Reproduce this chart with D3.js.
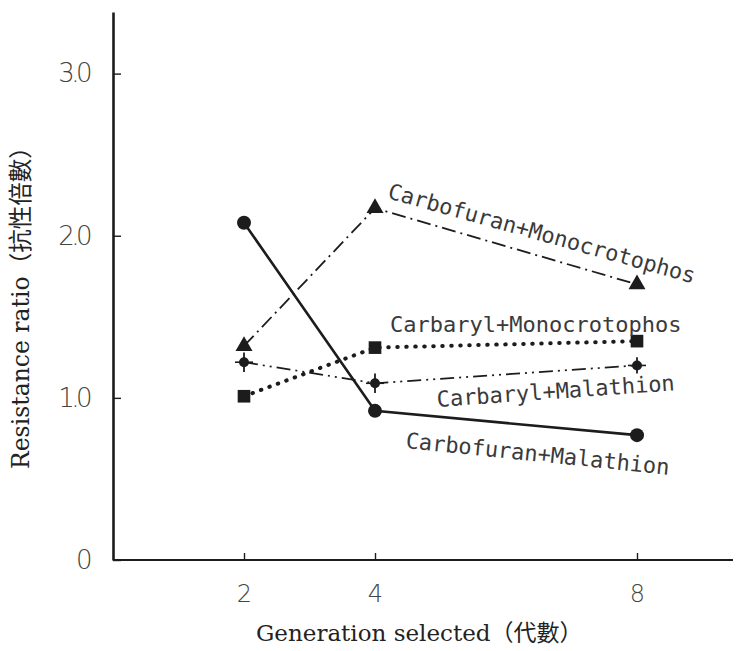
<!DOCTYPE html>
<html>
<head>
<meta charset="utf-8">
<script src="https://cdn.jsdelivr.net/npm/d3@7"></script>
<style>
  body { margin: 0; background: #fff; }
  svg { display: block; }
</style>
</head>
<body>
<div id="chart"></div>
<script>
// values
var generations = [2, 4, 8];
var carbofuranMalathion = [20.8, 9.2, 7.7];
var carbofuranMonocrotophos = [13.2, 21.7, 17.0];
var carbarylMonocrotophos = [10.1, 13.1, 13.5];
var carbarylMalathion = [12.2, 10.9, 12.0];
var carbarylMalathionErr = [0.6, 0.6, 0.5];

var yTicks = [0, 10, 20, 30];
var yTickLabels = ["0", "1.0", "2.0", "3.0"];
var xTicks = [2, 4, 8];

var seriesNames = ["Carbofuran+Monocrotophos", "Carbaryl+Monocrotophos", "Carbaryl+Malathion", "Carbofuran+Malathion"];

var width = 737, height = 651;
var ink = "#1c1c1c";
var tickFont = "'DejaVu Sans', 'Liberation Sans', sans-serif";

var svg = d3.select("#chart").append("svg")
    .attr("width", width)
    .attr("height", height);

var x = d3.scaleLinear().domain([2, 8]).range([244, 637]);
var y = d3.scaleLinear().domain([0, 33.8]).range([560, 12]);

// axes
var yAxis = svg.append("g")
    .attr("transform", "translate(113,0)")
    .call(d3.axisLeft(y).tickValues(yTicks)
        .tickFormat(function (d, i) { return yTickLabels[i]; })
        .tickSizeInner(-8).tickSizeOuter(0).tickPadding(24));
yAxis.select(".domain").attr("stroke", ink).attr("stroke-width", 2.6);
yAxis.selectAll(".tick line").attr("stroke", ink).attr("stroke-width", 1.4);
yAxis.selectAll(".tick text")
    .attr("fill", "#444")
    .style("font-family", tickFont)
    .style("font-weight", "200")
    .style("font-stretch", "condensed")
    .style("font-size", "26px")
    .style("letter-spacing", "-3.5px");

var xAxis = svg.append("g")
    .attr("transform", "translate(0,560)")
    .call(d3.axisBottom(x).tickValues(xTicks).tickFormat(d3.format("d"))
        .tickSizeInner(-7).tickSizeOuter(0).tickPadding(25));
xAxis.select(".domain").attr("d", "M113,0H733").attr("stroke", ink).attr("stroke-width", 2.2);
xAxis.selectAll(".tick line").attr("stroke", ink).attr("stroke-width", 1.4);
xAxis.selectAll(".tick text")
    .attr("fill", "#444")
    .style("font-family", tickFont)
    .style("font-weight", "200")
    .style("font-stretch", "condensed")
    .style("font-size", "24px");

// axis titles
svg.append("text")
    .attr("x", 256).attr("y", 641)
    .attr("fill", "#222")
    .style("font-family", "'DejaVu Serif', 'Noto Sans CJK TC', serif")
    .style("font-size", "23px")
    .text("Generation selected（代數）");

svg.append("text")
    .attr("transform", "translate(29,469) rotate(-90)")
    .attr("fill", "#222")
    .style("font-family", "'DejaVu Serif', 'Noto Sans CJK TC', serif")
    .style("font-size", "23.5px")
    .text("Resistance ratio（抗性倍數）");

// lines
function pts(vals) {
    return generations.map(function (g, i) { return [g, vals[i]]; });
}
var line = d3.line().x(function (d) { return x(d[0]); }).y(function (d) { return y(d[1]); });

svg.append("path").datum(pts(carbofuranMalathion))
    .attr("d", line).attr("fill", "none").attr("stroke", ink).attr("stroke-width", 2.6);

svg.append("path").datum(pts(carbofuranMonocrotophos))
    .attr("d", line).attr("fill", "none").attr("stroke", ink).attr("stroke-width", 1.8)
    .attr("stroke-dasharray", "14 5 2 5");

svg.append("path").datum(pts(carbarylMonocrotophos))
    .attr("d", line).attr("fill", "none").attr("stroke", ink).attr("stroke-width", 4)
    .attr("stroke-linecap", "round").attr("stroke-dasharray", "0.5 8.5");

svg.append("path").datum(pts(carbarylMalathion))
    .attr("d", line).attr("fill", "none").attr("stroke", ink).attr("stroke-width", 1.7)
    .attr("stroke-dasharray", "14 5 2 5 2 5");

// markers
svg.append("g").selectAll("circle")
    .data(pts(carbofuranMalathion)).enter().append("circle")
    .attr("cx", function (d) { return x(d[0]); })
    .attr("cy", function (d) { return y(d[1]); })
    .attr("r", 7).attr("fill", ink);

svg.append("g").selectAll("path")
    .data(pts(carbofuranMonocrotophos)).enter().append("path")
    .attr("d", d3.symbol().type(d3.symbolTriangle).size(125))
    .attr("transform", function (d) { return "translate(" + x(d[0]) + "," + y(d[1]) + ")"; })
    .attr("fill", ink);

svg.append("g").selectAll("path")
    .data(pts(carbarylMonocrotophos)).enter().append("path")
    .attr("d", d3.symbol().type(d3.symbolSquare).size(160))
    .attr("transform", function (d) { return "translate(" + x(d[0]) + "," + y(d[1]) + ")"; })
    .attr("fill", ink);

var plusG = svg.append("g").selectAll("g")
    .data(pts(carbarylMalathion)).enter().append("g");
plusG.append("line")
    .attr("x1", function (d) { return x(d[0]); })
    .attr("x2", function (d) { return x(d[0]); })
    .attr("y1", function (d, i) { return y(d[1] + carbarylMalathionErr[i]); })
    .attr("y2", function (d, i) { return y(d[1] - carbarylMalathionErr[i]); })
    .attr("stroke", ink).attr("stroke-width", 1.8);
plusG.append("line")
    .attr("x1", function (d) { return x(d[0]) - 9; })
    .attr("x2", function (d) { return x(d[0]) + 9; })
    .attr("y1", function (d) { return y(d[1]); })
    .attr("y2", function (d) { return y(d[1]); })
    .attr("stroke", ink).attr("stroke-width", 1.6);
plusG.append("circle")
    .attr("cx", function (d) { return x(d[0]); })
    .attr("cy", function (d) { return y(d[1]); })
    .attr("r", 5).attr("fill", ink);

// series labels, placed in data coordinates
var labelSpots = [
    { gx: 4.18, ry: 22.33, angle: 15.6 },
    { gx: 4.23, ry: 14.07, angle: 0 },
    { gx: 4.95, ry: 9.44, angle: -4 },
    { gx: 4.46, ry: 6.91, angle: 5.8 }
];
svg.append("g").selectAll("text")
    .data(seriesNames).enter().append("text")
    .attr("transform", function (d, i) {
        var s = labelSpots[i];
        return "translate(" + x(s.gx) + "," + y(s.ry) + ") rotate(" + s.angle + ")";
    })
    .attr("fill", "#3a3a3a")
    .style("font-family", "'DejaVu Sans Mono', monospace")
    .style("font-size", "22px")
    .text(function (d) { return d; });
</script>
</body>
</html>
